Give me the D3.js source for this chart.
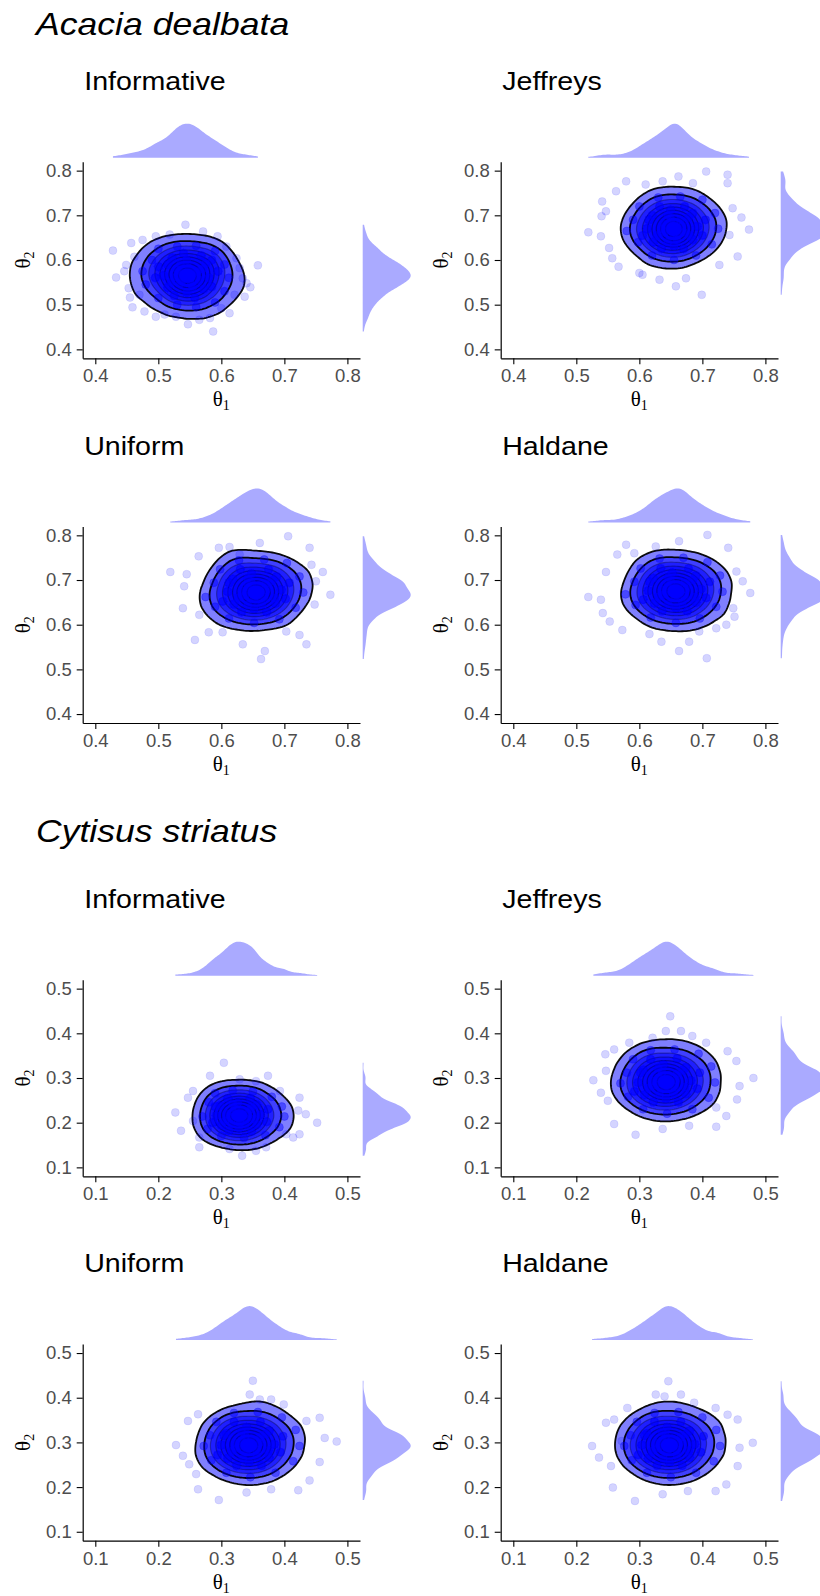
<!DOCTYPE html>
<html>
<head>
<meta charset="utf-8">
<script src="https://cdn.jsdelivr.net/npm/d3@7"></script>
<style>
  body { margin: 0; background: #fff; }
  svg { display: block; font-family: "Liberation Sans", Arial, sans-serif; }
</style>
</head>
<body>
<div id="chart"></div>
<script>
// Posterior draws (theta1, theta2), one array per prior.
// A third value is the number of overplotted draws at that spot (default 1).
const speciesNames = ['Acacia dealbata', 'Cytisus striatus'];
const priorNames = ['Informative', 'Jeffreys', 'Uniform', 'Haldane'];
const acaciaTicks = [0.4, 0.5, 0.6, 0.7, 0.8];
const cytisusTicks = [0.1, 0.2, 0.3, 0.4, 0.5];

const acaciaInformative = [
    [0.543,0.679],[0.428,0.621],[0.433,0.561],[0.459,0.494],[0.478,0.485],[0.496,0.473],[0.547,0.456],
    [0.587,0.440],[0.565,0.466],[0.613,0.481],[0.658,0.588],[0.646,0.539],[0.634,0.559],[0.571,0.664],
    [0.594,0.653],[0.457,0.638],[0.475,0.645],[0.496,0.653],[0.518,0.657],[0.449,0.589],[0.453,0.537],
    [0.470,0.522],[0.624,0.604],[0.629,0.582],[0.621,0.522],[0.600,0.492],[0.528,0.473],[0.637,0.518],
    [0.446,0.575],[0.462,0.607],[0.608,0.630],[0.582,0.470],[0.510,0.478],[0.640,0.548],[0.455,0.516],
    [0.545,0.565,4],[0.538,0.572,4],[0.552,0.560,4],[0.530,0.578,4],[0.548,0.582,4],[0.562,0.574,4],
    [0.565,0.555,4],[0.552,0.545,4],[0.535,0.548,4],[0.528,0.562,4],[0.540,0.556,4],[0.556,0.570,4],
    [0.515,0.590,4],[0.545,0.600,4],[0.575,0.592,4],[0.580,0.560,4],[0.572,0.535,4],[0.545,0.528,4],
    [0.515,0.538,4],[0.508,0.565,4],[0.522,0.605,4],[0.568,0.610,4],[0.595,0.575,4],[0.585,0.540,4],
    [0.525,0.520,4],[0.495,0.560,4],[0.558,0.515,4],[0.500,0.585,4],[0.540,0.615,4],[0.585,0.600,4],
    [0.520,0.550,4],[0.570,0.580,4],[0.535,0.590,4],[0.555,0.540,4],
    [0.490,0.600,3],[0.500,0.625,3],[0.530,0.630,3],[0.560,0.632,3],[0.590,0.620,3],[0.605,0.590,3],
    [0.612,0.560,3],[0.605,0.530,3],[0.590,0.505,3],[0.560,0.495,3],[0.530,0.500,3],[0.500,0.515,3],
    [0.480,0.545,3],[0.475,0.575,3]
];

const acaciaJeffreys = [
    [0.519,0.662],[0.540,0.698],[0.539,0.653],[0.567,0.585],[0.579,0.776],[0.563,0.754],[0.662,0.787],
    [0.706,0.798],[0.685,0.772],[0.740,0.772],[0.740,0.791],[0.762,0.695],[0.774,0.668],[0.756,0.608],
    [0.699,0.522],[0.658,0.541],[0.632,0.556],[0.674,0.559],[0.605,0.567],[0.547,0.709],[0.552,0.627],
    [0.557,0.604],[0.600,0.571],[0.743,0.656],[0.748,0.716],[0.727,0.589],[0.637,0.776],[0.610,0.769],
    [0.541,0.731],
    [0.653,0.672,4],[0.640,0.680,4],[0.655,0.685,4],[0.668,0.676,4],[0.670,0.662,4],[0.655,0.655,4],
    [0.640,0.662,4],[0.660,0.670,4],[0.650,0.690,4],[0.635,0.670,4],[0.665,0.690,4],[0.658,0.660,4],
    [0.620,0.700,4],[0.650,0.712,4],[0.685,0.705,4],[0.692,0.675,4],[0.685,0.645,4],[0.655,0.632,4],
    [0.622,0.640,4],[0.612,0.670,4],[0.632,0.720,4],[0.672,0.720,4],[0.705,0.690,4],[0.700,0.655,4],
    [0.670,0.625,4],[0.635,0.625,4],[0.605,0.655,4],[0.615,0.690,4],[0.645,0.700,4],[0.678,0.695,4],
    [0.680,0.655,4],[0.628,0.655,4],[0.660,0.645,4],[0.645,0.640,4],
    [0.590,0.690,3],[0.600,0.720,3],[0.630,0.740,3],[0.665,0.742,3],[0.700,0.735,3],[0.720,0.705,3],
    [0.725,0.670,3],[0.715,0.635,3],[0.690,0.610,3],[0.655,0.600,3],[0.620,0.610,3],[0.598,0.640,3],
    [0.580,0.665,3]
];

const acaciaUniform = [
    [0.519,0.718],[0.545,0.713],[0.564,0.753],[0.596,0.772],[0.613,0.774],[0.661,0.783],[0.706,0.798],
    [0.740,0.772],[0.743,0.734],[0.761,0.718],[0.773,0.667],[0.748,0.645],[0.735,0.556],[0.703,0.585],
    [0.669,0.541],[0.663,0.523],[0.634,0.556],[0.602,0.583],[0.580,0.583],[0.558,0.566],[0.539,0.637],
    [0.565,0.622],[0.541,0.686],[0.750,0.697],[0.724,0.577],[0.629,0.757],
    [0.655,0.675,4],[0.642,0.684,4],[0.660,0.688,4],[0.672,0.678,4],[0.668,0.662,4],[0.652,0.658,4],
    [0.638,0.666,4],[0.662,0.672,4],[0.648,0.694,4],[0.632,0.676,4],[0.670,0.692,4],[0.656,0.664,4],
    [0.618,0.702,4],[0.648,0.714,4],[0.688,0.708,4],[0.695,0.678,4],[0.686,0.648,4],[0.652,0.636,4],
    [0.620,0.646,4],[0.610,0.674,4],[0.630,0.724,4],[0.675,0.724,4],[0.708,0.694,4],[0.702,0.658,4],
    [0.672,0.628,4],[0.632,0.628,4],[0.602,0.652,4],[0.612,0.694,4],[0.642,0.704,4],[0.680,0.698,4],
    [0.684,0.660,4],[0.626,0.660,4],[0.664,0.646,4],[0.642,0.644,4],
    [0.588,0.694,3],[0.598,0.724,3],[0.628,0.744,3],[0.668,0.746,3],[0.704,0.738,3],[0.724,0.708,3],
    [0.730,0.672,3],[0.718,0.638,3],[0.692,0.612,3],[0.652,0.604,3],[0.612,0.614,3],[0.590,0.640,3],
    [0.575,0.662,3]
];

const acaciaHaldane = [
    [0.519,0.662],[0.539,0.656],[0.547,0.718],[0.565,0.757],[0.579,0.779],[0.592,0.760],[0.626,0.775],
    [0.663,0.787],[0.708,0.801],[0.741,0.772],[0.754,0.719],[0.764,0.697],[0.776,0.671],[0.749,0.637],
    [0.751,0.618],[0.738,0.600],[0.707,0.525],[0.663,0.541],[0.679,0.562],[0.635,0.562],[0.616,0.579],
    [0.573,0.588],[0.553,0.607],[0.542,0.626],[0.722,0.592],[0.695,0.585],
    [0.658,0.678,4],[0.645,0.686,4],[0.662,0.690,4],[0.674,0.680,4],[0.672,0.664,4],[0.656,0.660,4],
    [0.640,0.668,4],[0.664,0.674,4],[0.650,0.696,4],[0.636,0.678,4],[0.672,0.694,4],[0.660,0.666,4],
    [0.622,0.704,4],[0.652,0.716,4],[0.690,0.710,4],[0.698,0.680,4],[0.690,0.650,4],[0.658,0.638,4],
    [0.624,0.648,4],[0.614,0.676,4],[0.634,0.726,4],[0.678,0.726,4],[0.712,0.696,4],[0.706,0.660,4],
    [0.676,0.630,4],[0.636,0.630,4],[0.606,0.656,4],[0.616,0.696,4],[0.646,0.706,4],[0.684,0.700,4],
    [0.688,0.662,4],[0.630,0.662,4],[0.668,0.648,4],[0.646,0.646,4],
    [0.592,0.696,3],[0.602,0.726,3],[0.632,0.748,3],[0.670,0.750,3],[0.708,0.740,3],[0.728,0.710,3],
    [0.732,0.674,3],[0.722,0.640,3],[0.696,0.614,3],[0.658,0.604,3],[0.618,0.616,3],[0.594,0.644,3],
    [0.578,0.668,3]
];

const cytisusInformative = [
    [0.304,0.334],[0.282,0.305],[0.329,0.297],[0.374,0.305],[0.355,0.293],[0.227,0.223],[0.247,0.256],
    [0.236,0.182],[0.265,0.145],[0.313,0.141],[0.333,0.126],[0.371,0.145],[0.403,0.174],[0.424,0.256],
    [0.434,0.219],[0.452,0.200],[0.414,0.167],[0.255,0.204],[0.265,0.167],[0.393,0.271],[0.355,0.137],
    [0.255,0.271],[0.424,0.174],[0.422,0.227],
    [0.329,0.218,4],[0.318,0.224,4],[0.334,0.228,4],[0.342,0.220,4],[0.340,0.208,4],[0.326,0.206,4],
    [0.314,0.212,4],[0.332,0.214,4],[0.322,0.232,4],[0.308,0.220,4],[0.346,0.230,4],[0.330,0.200,4],
    [0.298,0.238,4],[0.326,0.244,4],[0.356,0.240,4],[0.362,0.218,4],[0.356,0.196,4],[0.328,0.188,4],
    [0.300,0.194,4],[0.292,0.216,4],[0.310,0.254,4],[0.346,0.254,4],[0.374,0.230,4],[0.372,0.202,4],
    [0.348,0.180,4],[0.312,0.182,4],[0.286,0.200,4],[0.290,0.236,4],[0.318,0.242,4],[0.348,0.236,4],
    [0.352,0.208,4],[0.306,0.204,4],[0.338,0.196,4],[0.316,0.196,4],
    [0.280,0.246,3],[0.290,0.266,3],[0.318,0.272,3],[0.350,0.270,3],[0.380,0.258,3],[0.396,0.236,3],
    [0.400,0.214,3],[0.392,0.190,3],[0.370,0.172,3],[0.336,0.166,3],[0.300,0.170,3],[0.278,0.186,3],
    [0.270,0.214,3]
];

const cytisusJeffreys = [
    [0.349,0.438],[0.366,0.405],[0.342,0.405],[0.321,0.390],[0.384,0.394],[0.406,0.379],[0.284,0.379],
    [0.246,0.353],[0.260,0.364],[0.227,0.295],[0.239,0.267],[0.250,0.249],[0.260,0.197],[0.294,0.173],
    [0.337,0.186],[0.379,0.193],[0.422,0.191],[0.438,0.215],[0.455,0.252],[0.481,0.300],[0.459,0.282],
    [0.440,0.360],[0.454,0.338],[0.422,0.234],[0.247,0.316],
    [0.342,0.293,4],[0.330,0.300,4],[0.346,0.306,4],[0.358,0.296,4],[0.356,0.280,4],[0.340,0.278,4],
    [0.326,0.284,4],[0.348,0.290,4],[0.336,0.312,4],[0.320,0.294,4],[0.360,0.310,4],[0.344,0.282,4],
    [0.306,0.318,4],[0.338,0.330,4],[0.374,0.324,4],[0.382,0.294,4],[0.374,0.264,4],[0.342,0.254,4],
    [0.308,0.262,4],[0.298,0.290,4],[0.318,0.342,4],[0.360,0.344,4],[0.396,0.312,4],[0.392,0.276,4],
    [0.362,0.246,4],[0.322,0.246,4],[0.292,0.270,4],[0.302,0.312,4],[0.330,0.322,4],[0.368,0.316,4],
    [0.372,0.280,4],[0.314,0.278,4],[0.354,0.266,4],[0.332,0.262,4],
    [0.280,0.312,3],[0.290,0.342,3],[0.318,0.362,3],[0.356,0.364,3],[0.394,0.354,3],[0.414,0.326,3],
    [0.420,0.290,3],[0.410,0.256,3],[0.384,0.230,3],[0.344,0.220,3],[0.306,0.230,3],[0.282,0.258,3],
    [0.270,0.288,3]
];

const cytisusUniform = [
    [0.350,0.438],[0.345,0.407],[0.361,0.396],[0.379,0.396],[0.399,0.385],[0.263,0.363],[0.247,0.348],
    [0.228,0.294],[0.239,0.270],[0.249,0.251],[0.263,0.195],[0.296,0.171],[0.340,0.188],[0.379,0.195],
    [0.422,0.193],[0.440,0.215],[0.456,0.256],[0.483,0.302],[0.464,0.310],[0.456,0.355],[0.435,0.348],
    [0.260,0.229],
    [0.342,0.296,4],[0.332,0.304,4],[0.348,0.308,4],[0.360,0.298,4],[0.356,0.282,4],[0.340,0.280,4],
    [0.326,0.288,4],[0.350,0.292,4],[0.338,0.314,4],[0.322,0.298,4],[0.362,0.312,4],[0.344,0.286,4],
    [0.308,0.320,4],[0.340,0.334,4],[0.376,0.326,4],[0.384,0.296,4],[0.376,0.266,4],[0.344,0.256,4],
    [0.310,0.264,4],[0.300,0.294,4],[0.320,0.346,4],[0.362,0.346,4],[0.398,0.314,4],[0.394,0.278,4],
    [0.364,0.248,4],[0.324,0.248,4],[0.294,0.272,4],[0.304,0.316,4],[0.332,0.324,4],[0.370,0.318,4],
    [0.374,0.282,4],[0.316,0.280,4],[0.356,0.268,4],[0.334,0.264,4],
    [0.282,0.316,3],[0.292,0.346,3],[0.320,0.366,3],[0.358,0.368,3],[0.396,0.356,3],[0.418,0.328,3],
    [0.424,0.292,3],[0.414,0.258,3],[0.386,0.232,3],[0.346,0.222,3],[0.308,0.232,3],[0.284,0.260,3],
    [0.272,0.292,3]
];

const cytisusHaldane = [
    [0.346,0.437],[0.340,0.403],[0.366,0.407],[0.326,0.407],[0.387,0.389],[0.281,0.377],[0.260,0.351],
    [0.247,0.344],[0.225,0.292],[0.236,0.266],[0.255,0.247],[0.258,0.199],[0.293,0.169],[0.337,0.184],
    [0.377,0.191],[0.421,0.191],[0.438,0.206],[0.456,0.247],[0.480,0.299],[0.459,0.288],[0.456,0.351],
    [0.440,0.362],[0.421,0.377],[0.272,0.303],
    [0.347,0.296,4],[0.336,0.304,4],[0.352,0.308,4],[0.364,0.298,4],[0.360,0.282,4],[0.344,0.280,4],
    [0.330,0.288,4],[0.354,0.292,4],[0.342,0.314,4],[0.326,0.298,4],[0.366,0.312,4],[0.348,0.286,4],
    [0.312,0.320,4],[0.344,0.334,4],[0.380,0.326,4],[0.388,0.296,4],[0.380,0.266,4],[0.348,0.256,4],
    [0.314,0.264,4],[0.304,0.294,4],[0.324,0.346,4],[0.366,0.346,4],[0.402,0.314,4],[0.398,0.278,4],
    [0.368,0.248,4],[0.328,0.248,4],[0.298,0.272,4],[0.308,0.316,4],[0.336,0.324,4],[0.374,0.318,4],
    [0.378,0.282,4],[0.320,0.280,4],[0.360,0.268,4],[0.338,0.264,4],
    [0.286,0.316,3],[0.296,0.346,3],[0.324,0.366,3],[0.362,0.368,3],[0.400,0.356,3],[0.422,0.328,3],
    [0.428,0.292,3],[0.418,0.258,3],[0.390,0.232,3],[0.350,0.222,3],[0.312,0.232,3],[0.288,0.260,3],
    [0.276,0.292,3]
];

const WIDTH = 820;
const HEIGHT = 1596;
const PLOT_W = 277.3;
const PLOT_H = 196.6;
const COL_LEFT = [82.7, 500.7];
const ROW_TOP = [161.7, 526.4, 979.7, 1344.1];
const TITLE_Y = [35, 842];
const LEVELS = [0.12, 0.22, 0.32, 0.42, 0.52, 0.62, 0.72, 0.82, 0.92];

const panels = [
    { species: 0, prior: 0, pts: acaciaInformative, ticks: acaciaTicks },
    { species: 0, prior: 1, pts: acaciaJeffreys, ticks: acaciaTicks },
    { species: 0, prior: 2, pts: acaciaUniform, ticks: acaciaTicks },
    { species: 0, prior: 3, pts: acaciaHaldane, ticks: acaciaTicks },
    { species: 1, prior: 0, pts: cytisusInformative, ticks: cytisusTicks },
    { species: 1, prior: 1, pts: cytisusJeffreys, ticks: cytisusTicks },
    { species: 1, prior: 2, pts: cytisusUniform, ticks: cytisusTicks },
    { species: 1, prior: 3, pts: cytisusHaldane, ticks: cytisusTicks }
];

const svg = d3.select('#chart')
    .append('svg')
    .attr('width', WIDTH)
    .attr('height', HEIGHT)
    .style('background', '#fff');

// species headings
speciesNames.forEach((name, i) => {
    svg.append('text')
        .attr('transform', `translate(36,${TITLE_Y[i]}) scale(1.13,1)`)
        .attr('font-size', 31.5)
        .attr('font-style', 'italic')
        .attr('fill', '#000')
        .text(name);
});

// gaussian kde, bandwidth as R's bw.nrd0
function kde(vals) {
    const s = vals.slice().sort(d3.ascending);
    const sd = d3.deviation(s);
    const iqr = d3.quantile(s, 0.75) - d3.quantile(s, 0.25);
    const bw = 0.9 * Math.min(sd, iqr / 1.34) * Math.pow(s.length, -0.2);
    const lo = s[0], hi = s[s.length - 1];
    return d3.range(0, 121).map(i => {
        const t = lo + (hi - lo) * i / 120;
        const dens = d3.mean(s, v => Math.exp(-0.5 * ((t - v) / bw) ** 2)) / bw;
        return [t, dens];
    });
}

panels.forEach(p => {
    const row = p.species * 2 + Math.floor(p.prior / 2);
    const col = p.prior % 2;
    const left = COL_LEFT[col];
    const top = ROW_TOP[row];

    // expand overplotted spots into single draws
    const draws = p.pts.flatMap(d => d3.range(d[2] || 1).map(() => [d[0], d[1]]));

    const lo = p.ticks[0], hi = p.ticks[p.ticks.length - 1];
    const pad = (hi - lo) * 0.05;
    const x = d3.scaleLinear().domain([lo - pad, hi + pad]).range([0, PLOT_W]);
    const y = d3.scaleLinear().domain([lo - pad, hi + pad]).range([PLOT_H, 0]);

    // prior name
    svg.append('text')
        .attr('transform', `translate(${left + 1.5},${top - 71.7}) scale(1.1,1)`)
        .attr('font-size', 26)
        .attr('fill', '#000')
        .text(priorNames[p.prior]);

    const g = svg.append('g').attr('transform', `translate(${left},${top})`);

    // 2d density contours
    const density = d3.contourDensity()
        .x(d => x(d[0]))
        .y(d => y(d[1]))
        .size([Math.ceil(PLOT_W), Math.ceil(PLOT_H)])
        .cellSize(2)
        .bandwidth(11);

    let geoms;
    if (density.contours) {
        const c = density.contours(draws);
        geoms = LEVELS.map(f => c(f * c.max));
    } else {
        const all = density.thresholds(150)(draws).filter(d => d.coordinates.length);
        const max = d3.max(all, d => d.value);
        geoms = density.thresholds(LEVELS.map(f => f * max))(draws);
    }

    const path = d3.geoPath();

    g.selectAll('path.band')
        .data(geoms)
        .enter()
        .append('path')
        .attr('class', 'band')
        .attr('d', path)
        .attr('fill', '#0000ff')
        .attr('fill-opacity', 0.5);

    g.selectAll('path.line')
        .data(geoms)
        .enter()
        .append('path')
        .attr('class', 'line')
        .attr('d', path)
        .attr('fill', 'none')
        .attr('stroke', '#000')
        .attr('stroke-width', (d, i) => i < 2 ? 1.8 : 1.2)
        .attr('stroke-opacity', (d, i) => i < 2 ? 0.95 : 0.3);

    // draws, overplotted
    g.selectAll('circle')
        .data(draws)
        .enter()
        .append('circle')
        .attr('cx', d => x(d[0]))
        .attr('cy', d => y(d[1]))
        .attr('r', 4)
        .attr('fill', '#0000ff')
        .attr('fill-opacity', 0.17)
        .attr('stroke', '#0000ff')
        .attr('stroke-opacity', 0.1)
        .attr('stroke-width', 0.8);

    // marginal densities
    const dx = kde(draws.map(d => d[0]));
    const dy = kde(draws.map(d => d[1]));
    const hx = d3.scaleLinear().domain([0, d3.max(dx, d => d[1])]).range([0, 34]);
    const hy = d3.scaleLinear().domain([0, d3.max(dy, d => d[1])]).range([0, 48]);

    svg.append('path')
        .datum(dx)
        .attr('transform', `translate(${left},${top - 4})`)
        .attr('d', d3.area().x(d => x(d[0])).y0(0).y1(d => -hx(d[1])))
        .attr('fill', '#aaaaff');

    svg.append('path')
        .datum(dy)
        .attr('transform', `translate(${left + PLOT_W + 2.7},${top})`)
        .attr('d', d3.area().y(d => y(d[0])).x0(0).x1(d => hy(d[1])))
        .attr('fill', '#aaaaff');

    // axes
    const fmt = d3.format('.1f');
    const ax = g.append('g')
        .attr('transform', `translate(0,${PLOT_H})`)
        .call(d3.axisBottom(x).tickValues(p.ticks).tickFormat(fmt).tickSize(6).tickPadding(5).tickSizeOuter(0));
    const ay = g.append('g')
        .call(d3.axisLeft(y).tickValues(p.ticks).tickFormat(fmt).tickSize(6).tickPadding(5).tickSizeOuter(0));

    [ax, ay].forEach(a => {
        a.select('.domain').attr('stroke', '#000').attr('stroke-width', 1.2);
        a.selectAll('.tick line').attr('stroke', '#000').attr('stroke-width', 1.1);
        a.selectAll('.tick text')
            .attr('font-size', 18.5)
            .attr('font-family', '"Liberation Sans", Arial, sans-serif')
            .attr('fill', '#4d4d4d');
    });

    // axis titles
    const xl = g.append('text')
        .attr('x', PLOT_W / 2)
        .attr('y', PLOT_H + 48)
        .attr('text-anchor', 'middle')
        .attr('font-family', '"Liberation Serif", "Times New Roman", serif')
        .attr('font-size', 21)
        .attr('fill', '#000');
    xl.append('tspan').text('θ');
    xl.append('tspan').attr('font-size', 14).attr('dy', 4).text('1');

    const yl = g.append('text')
        .attr('transform', `translate(-52.5,${PLOT_H / 2}) rotate(-90)`)
        .attr('text-anchor', 'middle')
        .attr('font-family', '"Liberation Serif", "Times New Roman", serif')
        .attr('font-size', 21)
        .attr('fill', '#000');
    yl.append('tspan').text('θ');
    yl.append('tspan').attr('font-size', 14).attr('dy', 4).text('2');
});
</script>
</body>
</html>
